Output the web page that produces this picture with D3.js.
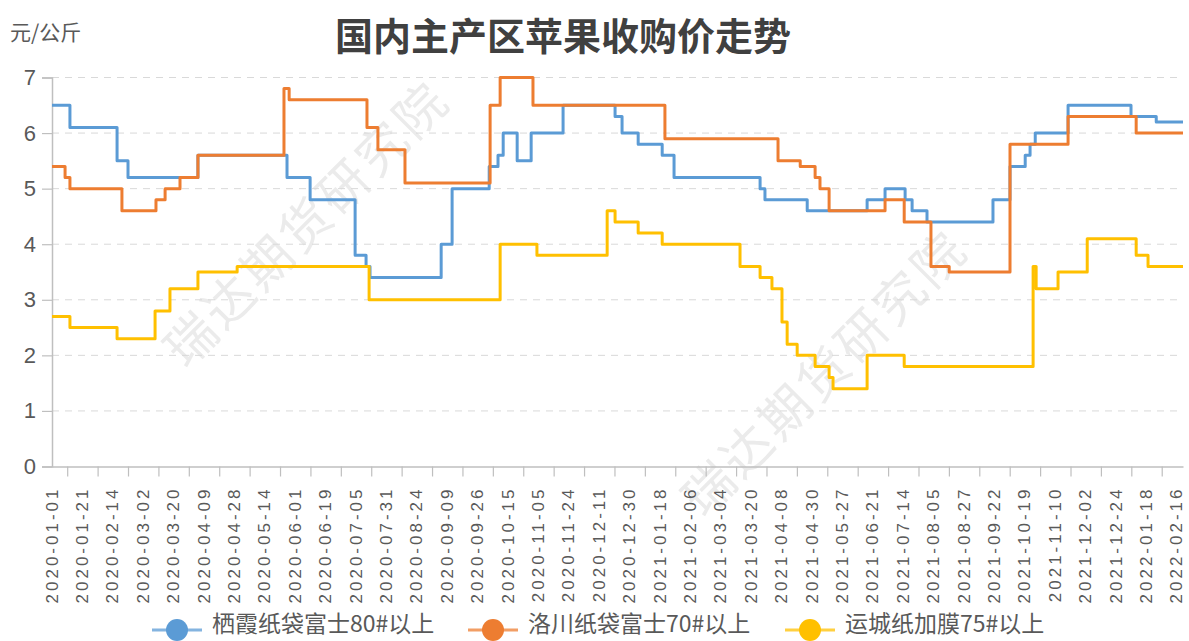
<!DOCTYPE html>
<html>
<head>
<meta charset="utf-8">
<script src="https://cdn.jsdelivr.net/npm/d3@7"></script>
<style>
  body { margin: 0; background: #ffffff; }
  svg { display: block; }
</style>
</head>
<body>
<script>
//Chart size and plot box
var W = 1189;
var H = 641;
var PlotLeft = 52;
var PlotRight = 1183;
var PlotTop = 77.5;
var PlotBottom = 466.5;
var XEnd = 37.2;

//Category labels on the x axis (one every few observations)
var dateLabels = ["2020-01-01", "2020-01-21", "2020-02-14", "2020-03-02", "2020-03-20",
  "2020-04-09", "2020-04-28", "2020-05-14", "2020-06-01", "2020-06-19", "2020-07-05",
  "2020-07-31", "2020-08-24", "2020-09-09", "2020-09-26", "2020-10-15", "2020-11-05",
  "2020-11-24", "2020-12-11", "2020-12-30", "2021-01-18", "2021-02-06", "2021-03-04",
  "2021-03-20", "2021-04-08", "2021-04-30", "2021-05-27", "2021-06-21", "2021-07-14",
  "2021-08-05", "2021-08-27", "2021-09-22", "2021-10-19", "2021-11-10", "2021-12-02",
  "2021-12-24", "2022-01-18", "2022-02-16"];

var seriesNames = ["栖霞纸袋富士80#以上", "洛川纸袋富士70#以上", "运城纸加膜75#以上"];
var seriesColors = ["#5B9BD5", "#ED7D31", "#FFC000"];

//Price changes: position on the category axis (label units) and new price
var qixiaX = [0, 0.59, 2.14, 2.5, 4.8, 7.73, 8.49, 9.97, 10.33, 10.46, 12.8, 13.16,
  14.38, 14.67, 14.84, 15.3, 15.76, 16.81, 18.52, 18.75, 19.28, 20.07, 20.46, 23.29,
  23.45, 24.84, 26.81, 27.4, 28.06, 28.29, 28.78, 30.95, 31.51, 32.01, 32.17, 32.34,
  33.42, 35.49, 36.32, 37.2];
var qixiaY = [6.5, 6.1, 5.5, 5.2, 5.6, 5.2, 4.8, 3.8, 3.6, 3.4, 4.0, 5.0,
  5.4, 5.6, 6.0, 5.5, 6.0, 6.5, 6.3, 6.0, 5.8, 5.6, 5.2, 5.0,
  4.8, 4.6, 4.8, 5.0, 4.8, 4.6, 4.4, 4.8, 5.4, 5.6, 5.8, 6.0,
  6.5, 6.3, 6.2, 6.2];

var luochuanX = [0, 0.43, 0.59, 2.3, 3.42, 3.72, 4.21, 4.8, 7.63, 7.8, 10.36, 10.72,
  11.61, 14.41, 14.74, 15.82, 20.16, 23.88, 24.61, 25.1, 25.26, 25.56, 27.4, 28.03,
  28.91, 29.51, 31.51, 33.42, 35.66, 37.2];
var luochuanY = [5.4, 5.2, 5.0, 4.6, 4.8, 5.0, 5.2, 5.6, 6.8, 6.6, 6.1, 5.7,
  5.1, 6.5, 7.0, 6.5, 5.9, 5.5, 5.4, 5.2, 5.0, 4.6, 4.8, 4.4,
  3.6, 3.5, 5.8, 6.3, 6.0, 6.0];

var yunchengX = [0, 0.59, 2.14, 3.39, 3.88, 4.8, 6.09, 10.43, 14.74, 15.95, 18.26,
  18.52, 19.28, 20.07, 22.63, 23.29, 23.68, 24.01, 24.18, 24.51, 25.1, 25.56, 25.69,
  26.81, 28.03, 32.27, 32.37, 33.09, 34.05, 35.66, 36.05, 37.2];
var yunchengY = [2.7, 2.5, 2.3, 2.8, 3.2, 3.5, 3.6, 3.0, 4.0, 3.8, 4.6,
  4.4, 4.2, 4.0, 3.6, 3.4, 3.2, 2.6, 2.2, 2.0, 1.8, 1.6, 1.4,
  2.0, 1.8, 3.6, 3.2, 3.5, 4.1, 3.8, 3.6, 3.6];

var yTickValues = [0, 1, 2, 3, 4, 5, 6, 7];


function main() {
  var svg = d3.select("body")
    .append("svg")
    .attr("width", W)
    .attr("height", H);

  var xScale = d3.scaleLinear().domain([0, XEnd]).range([PlotLeft, PlotRight]);
  var yScale = d3.scaleLinear().domain([0, 7]).range([PlotBottom, PlotTop]);

  watermark(svg);
  grid(svg, yScale);
  axes(svg, xScale, yScale);

  var allX = [qixiaX, luochuanX, yunchengX];
  var allY = [qixiaY, luochuanY, yunchengY];
  for (var s = 0; s < 3; s++) {
    var pts = allX[s].map(function(x, i) { return { x: x, v: allY[s][i] }; });
    drawLine(svg, pts, seriesColors[s], xScale, yScale);
  }

  titles(svg);
  legend(svg);
}

function watermark(svg) {
  //Faint company mark drawn twice across the plot
  var spots = [[304, 221], [822, 370]];
  svg.selectAll("text.wm")
    .data(spots)
    .enter()
    .append("text")
    .attr("class", "wm")
    .attr("transform", function(d) {
      return "translate(" + d[0] + "," + d[1] + ") rotate(-45)";
    })
    .attr("text-anchor", "middle")
    .attr("dominant-baseline", "central")
    .attr("font-family", "Noto Sans CJK SC")
    .attr("font-size", "50px")
    .attr("letter-spacing", "4px")
    .attr("fill", "#ebebeb")
    .text("瑞达期货研究院");
}

function grid(svg, yScale) {
  svg.selectAll("line.grid")
    .data(yTickValues.slice(1))
    .enter()
    .append("line")
    .attr("class", "grid")
    .attr("x1", PlotLeft)
    .attr("x2", PlotRight)
    .attr("y1", function(d) { return yScale(d); })
    .attr("y2", function(d) { return yScale(d); })
    .attr("stroke", "#d9d9d9")
    .attr("stroke-width", 1)
    .attr("stroke-dasharray", "7,6");
}

function axes(svg, xScale, yScale) {
  //y axis with ticks crossing to the left
  var yAxis = d3.axisLeft(yScale)
    .tickValues(yTickValues)
    .tickFormat(d3.format("d"))
    .tickSize(10)
    .tickPadding(6);
  var gy = svg.append("g")
    .attr("transform", "translate(" + PlotLeft + ",0)")
    .call(yAxis);
  gy.select(".domain").attr("stroke", "#bfbfbf").attr("stroke-width", 1.5);
  gy.selectAll(".tick line").attr("stroke", "#bfbfbf").attr("stroke-width", 1.2);
  gy.selectAll(".tick text")
    .attr("font-family", "Liberation Sans, Arial, sans-serif")
    .attr("font-size", "22px")
    .attr("fill", "#595959");

  //x axis: ticks sit between the labels
  var tickPos = d3.range(dateLabels.length - 1).map(function(i) { return i + 0.5; });
  var xAxis = d3.axisBottom(xScale)
    .tickValues(tickPos)
    .tickSize(10)
    .tickSizeOuter(0)
    .tickFormat("");
  var gx = svg.append("g")
    .attr("transform", "translate(0," + PlotBottom + ")")
    .call(xAxis);
  gx.select(".domain").attr("stroke", "#bfbfbf").attr("stroke-width", 1.5);
  gx.selectAll(".tick line").attr("stroke", "#bfbfbf").attr("stroke-width", 1.2);

  svg.selectAll("text.xlab")
    .data(dateLabels)
    .enter()
    .append("text")
    .attr("class", "xlab")
    .attr("transform", function(d, i) {
      return "translate(" + xScale(i) + "," + (PlotBottom + 20) + ") rotate(-90)";
    })
    .attr("text-anchor", "end")
    .attr("dominant-baseline", "central")
    .attr("font-family", "Liberation Sans, Arial, sans-serif")
    .attr("font-size", "17px")
    .attr("letter-spacing", "3px")
    .attr("fill", "#595959")
    .text(function(d) { return d; });
}

function drawLine(svg, pts, color, xScale, yScale) {
  var line = d3.line()
    .x(function(d) { return xScale(d.x); })
    .y(function(d) { return yScale(d.v); })
    .curve(d3.curveStepAfter);
  svg.append("path")
    .datum(pts)
    .attr("d", line)
    .attr("fill", "none")
    .attr("stroke", color)
    .attr("stroke-width", 3)
    .attr("stroke-linejoin", "round");
}

function titles(svg) {
  svg.append("text")
    .attr("x", 563)
    .attr("y", 33)
    .attr("text-anchor", "middle")
    .attr("dominant-baseline", "central")
    .attr("font-family", "Noto Sans CJK SC")
    .attr("font-weight", "bold")
    .attr("font-size", "38px")
    .attr("fill", "#404040")
    .text("国内主产区苹果收购价走势");

  svg.append("text")
    .attr("x", 10)
    .attr("y", 31)
    .attr("dominant-baseline", "central")
    .attr("font-family", "Noto Sans CJK SC")
    .attr("font-size", "21px")
    .attr("fill", "#595959")
    .text("元/公斤");
}

function legend(svg) {
  var legendX = [152, 468, 785];
  var legendY = 630;
  var items = svg.selectAll("g.leg")
    .data(seriesNames)
    .enter()
    .append("g")
    .attr("class", "leg")
    .attr("transform", function(d, i) {
      return "translate(" + legendX[i] + "," + legendY + ")";
    });
  items.append("line")
    .attr("x1", 0)
    .attr("x2", 50)
    .attr("stroke", function(d, i) { return seriesColors[i]; })
    .attr("stroke-width", 3)
    .attr("stroke-opacity", 0.75);
  items.append("circle")
    .attr("cx", 25)
    .attr("r", 11)
    .attr("fill", function(d, i) { return seriesColors[i]; });
  items.append("text")
    .attr("x", 60)
    .attr("y", -8)
    .attr("dominant-baseline", "central")
    .attr("font-family", "Noto Sans CJK SC")
    .attr("font-size", "23px")
    .attr("fill", "#595959")
    .text(function(d) { return d; });
}

main();
</script>
</body>
</html>
